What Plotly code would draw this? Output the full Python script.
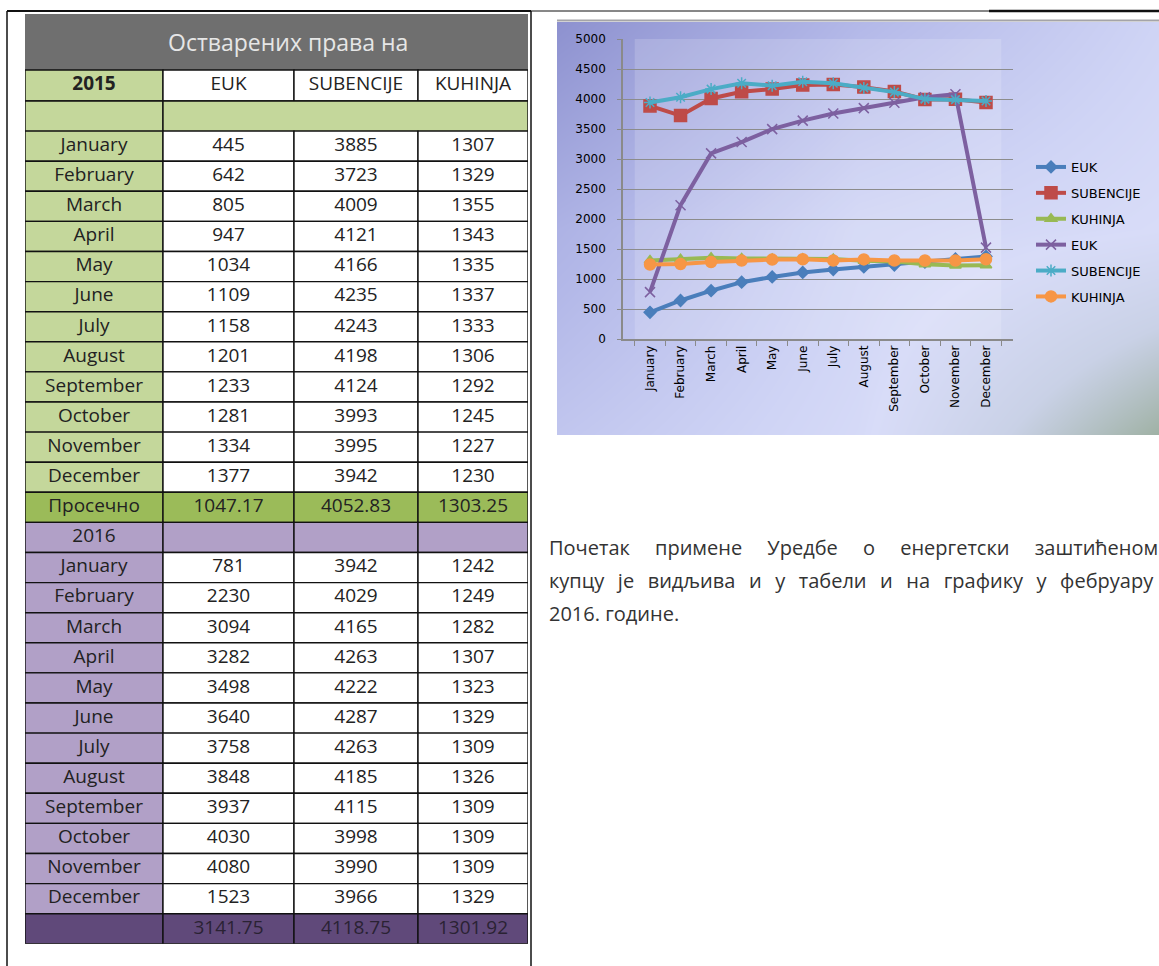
import plotly.graph_objects as go

# ---------------- data ----------------
months = ["January", "February", "March", "April", "May", "June", "July",
          "August", "September", "October", "November", "December"]
columns = ["EUK", "SUBENCIJE", "KUHINJA"]
year_2015 = "2015"
year_2016 = "2016"
euk_2015 = [445, 642, 805, 947, 1034, 1109, 1158, 1201, 1233, 1281, 1334, 1377]
sub_2015 = [3885, 3723, 4009, 4121, 4166, 4235, 4243, 4198, 4124, 3993, 3995, 3942]
kuh_2015 = [1307, 1329, 1355, 1343, 1335, 1337, 1333, 1306, 1292, 1245, 1227, 1230]
avg_2015 = ["1047.17", "4052.83", "1303.25"]
euk_2016 = [781, 2230, 3094, 3282, 3498, 3640, 3758, 3848, 3937, 4030, 4080, 1523]
sub_2016 = [3942, 4029, 4165, 4263, 4222, 4287, 4263, 4185, 4115, 3998, 3990, 3966]
kuh_2016 = [1242, 1249, 1282, 1307, 1323, 1329, 1309, 1326, 1309, 1309, 1309, 1329]
avg_2016 = ["3141.75", "4118.75", "1301.92"]
table_title = "Остварених права на"
avg_label = "Просечно"
paragraph = [["Почетак", "примене", "Уредбе", "о", "енергетски", "заштићеном"],
             ["купцу", "је", "видљива", "и", "у", "табели", "и", "на", "графику", "у", "фебруару"],
             ["2016.", "године."]]
y_ticks = list(range(0, 5001, 500))

# ---------------- layout constants ----------------
W, H = 1159, 966
def px(x):
    return x / W
def py(y):
    return 1 - y / H

FONT = "Open Sans"
TXT = "#222222"
GREEN_L = "#c4d79b"
GREEN_D = "#9bbb59"
PURP_L = "#b1a0c7"
PURP_D = "#60497a"
GRAY_T = "#6f6f6f"

fig = go.Figure()

# ---- chart background gradient (subplot x/y) ----
fig.add_trace(go.Heatmap(
    z=[[0.0, 0.35, 0.55], [0.3, 0.55, 0.62], [0.45, 0.6, 1.0]],
    x=[0, 0.5, 1], y=[1, 0.5, 0],
    zsmooth="best", showscale=False, hoverinfo="skip",
    colorscale=[[0, "#8d91cf"], [0.35, "#b3b8e8"], [0.55, "#cfd4f5"],
                [0.62, "#d8dcf8"], [0.8, "#c9d1e6"], [1, "#9fb1a4"]],
    zmin=0, zmax=1, xaxis="x", yaxis="y"))

# ---- line chart (subplot x2/y2) ----
series = [
    ("EUK", euk_2015, "#4a7ebb", "diamond", 9),
    ("SUBENCIJE", sub_2015, "#be4b48", "square", 12),
    ("KUHINJA", kuh_2015, "#98b954", "triangle-up", 10),
    ("EUK", euk_2016, "#7d60a0", "x-thin-open", 10),
    ("SUBENCIJE", sub_2016, "#4bacc6", "asterisk-open", 10),
    ("KUHINJA", kuh_2016, "#f79646", "circle", 11),
]
for i, (name, vals, col, sym, size) in enumerate(series):
    fig.add_trace(go.Scatter(
        x=months, y=vals, name=name, mode="lines+markers",
        line=dict(color=col, width=4),
        marker=dict(symbol=sym, size=size, color=col,
                    line=dict(color=col, width=1.5)),
        legendgroup=f"g{i}", xaxis="x2", yaxis="y2"))

# ---- table (subplot x3/y3) ----
col_edges = [25, 163, 294, 418, 528]
title_top, head_top, rows_top, row_h = 14, 70, 101, 30.1
n_rows = 28
shapes = []
tx, ty, tt, tc = [], [], [], []

def cell(c0, c1, r_top, r_bot, fill, line=True):
    shapes.append(dict(type="rect", xref="x3", yref="y3",
                       x0=col_edges[c0], x1=col_edges[c1], y0=r_top, y1=r_bot,
                       fillcolor=fill,
                       line=dict(color="#111111", width=1.4) if line else dict(width=0),
                       layer="below"))

def text(c, r_top, r_bot, s, color=TXT):
    tx.append((col_edges[c] + col_edges[c + 1]) / 2)
    ty.append((r_top + r_bot) / 2)
    tt.append(s)
    tc.append(color)

cell(0, 4, title_top, head_top, GRAY_T, line=False)
cell(0, 1, head_top, rows_top, GREEN_L)
text(0, head_top, rows_top, "<b>" + year_2015 + "</b>")
for j, name in enumerate(columns):
    cell(j + 1, j + 2, head_top, rows_top, "white")
    text(j + 1, head_top, rows_top, name)

def row_bounds(i):
    return rows_top + i * row_h, rows_top + (i + 1) * row_h

t, b = row_bounds(0)
cell(0, 1, t, b, GREEN_L)
cell(1, 4, t, b, GREEN_L)

def month_block(start, data, label_fill):
    for k, m in enumerate(months):
        t, b = row_bounds(start + k)
        cell(0, 1, t, b, label_fill)
        text(0, t, b, m)
        for j, arr in enumerate(data):
            cell(j + 1, j + 2, t, b, "white")
            text(j + 1, t, b, str(arr[k]))

month_block(1, [euk_2015, sub_2015, kuh_2015], GREEN_L)
t, b = row_bounds(13)
cell(0, 1, t, b, GREEN_D)
text(0, t, b, avg_label)
for j, v in enumerate(avg_2015):
    cell(j + 1, j + 2, t, b, GREEN_D)
    text(j + 1, t, b, v)
t, b = row_bounds(14)
cell(0, 1, t, b, PURP_L)
text(0, t, b, year_2016)
for j in range(3):
    cell(j + 1, j + 2, t, b, PURP_L)
month_block(15, [euk_2016, sub_2016, kuh_2016], PURP_L)
t, b = row_bounds(27)
cell(0, 1, t, b, PURP_D)
for j, v in enumerate(avg_2016):
    cell(j + 1, j + 2, t, b, PURP_D)
    text(j + 1, t, b, v, color="#2a2233")

fig.add_trace(go.Scatter(
    x=tx, y=ty, text=tt, mode="text", showlegend=False, hoverinfo="skip",
    textfont=dict(family=FONT, size=19, color=tc),
    xaxis="x3", yaxis="y3"))

fig.add_annotation(x=288, y=(title_top + head_top) / 2, xref="x3", yref="y3",
                   text=table_title, showarrow=False,
                   font=dict(family=FONT, size=23, color="#e6e6e6"))

shapes.append(dict(type="rect", xref="x2", yref="y2", x0=-0.5, x1=len(months) - 0.5,
                   y0=0, y1=5000, fillcolor="rgba(255,255,255,0.16)",
                   line=dict(width=0), layer="below"))

frame = dict(color="#111111")
shapes += [
    dict(type="line", xref="paper", yref="paper", x0=px(7), x1=px(7), y0=py(11), y1=0,
         line=dict(width=1.5, **frame)),
    dict(type="line", xref="paper", yref="paper", x0=px(531), x1=px(531), y0=py(11), y1=0,
         line=dict(width=1.5, **frame)),
    dict(type="line", xref="paper", yref="paper", x0=px(7), x1=px(531), y0=py(11), y1=py(11),
         line=dict(width=2, **frame)),
    dict(type="line", xref="paper", yref="paper", x0=px(531), x1=px(989), y0=py(11), y1=py(11),
         line=dict(width=1, **frame)),
    dict(type="line", xref="paper", yref="paper", x0=px(989), x1=1, y0=py(11), y1=py(11),
         line=dict(width=2.5, **frame)),
    dict(type="line", xref="paper", yref="paper", x0=px(557), x1=1, y0=py(20.5), y1=py(20.5),
         line=dict(width=2, color="#a4a4a8")),
]

# paragraph (first two lines justified with widened word gaps)
gaps = [" \u2002\u2002", " \u2005\u2006", " "]
for k, words in enumerate(paragraph):
    line = gaps[k].join(words)
    fig.add_annotation(x=px(547), y=py(547 + 33 * k), xref="paper", yref="paper",
                       xanchor="left", yanchor="middle", showarrow=False, text=line,
                       font=dict(family=FONT, size=20, color="#333333"))

hidden = dict(visible=False, fixedrange=True)
fig.update_layout(
    width=W, height=H, margin=dict(l=0, r=0, t=0, b=0, autoexpand=False),
    paper_bgcolor="white", plot_bgcolor="rgba(0,0,0,0)",
    shapes=shapes,
    xaxis=dict(domain=[px(557), 1], range=[0, 1], anchor="y", **hidden),
    yaxis=dict(domain=[py(435), py(22)], range=[0, 1], anchor="x", **hidden),
    xaxis2=dict(domain=[px(623), px(1013)], anchor="y2", type="category",
                showline=True, linecolor="#8a8a8a", linewidth=1.5,
                ticks="outside", tickson="boundaries", ticklen=5, tickcolor="#8a8a8a",
                tickangle=-90, showgrid=False, fixedrange=True, automargin=False,
                tickfont=dict(family="DejaVu Sans", size=12, color="black")),
    yaxis2=dict(domain=[py(339), py(39)], anchor="x2", range=[0, 5000],
                tickvals=y_ticks, showgrid=False, zeroline=False,
                showline=True, linecolor="#8a8a8a", linewidth=1.5,
                ticks="outside", ticklen=4, tickcolor="#8a8a8a", fixedrange=True,
                ticklabelstandoff=9, automargin=False,
                minor=dict(tickvals=y_ticks[1:-1], showgrid=True, gridcolor="#8c8c8c",
                           gridwidth=1, ticklen=0),
                tickfont=dict(family="DejaVu Sans", size=12, color="black")),
    xaxis3=dict(domain=[px(col_edges[0]), px(col_edges[-1])],
                range=[col_edges[0], col_edges[-1]], anchor="y3", **hidden),
    yaxis3=dict(domain=[py(rows_top + n_rows * row_h), py(title_top)],
                range=[rows_top + n_rows * row_h, title_top], anchor="x3", **hidden),
    showlegend=True,
    legend=dict(x=px(1031), y=py(152), xanchor="left", yanchor="top",
                bgcolor="rgba(0,0,0,0)", tracegroupgap=6,
                font=dict(family="DejaVu Sans", size=13, color="black")),
)

fig.write_html("out.html", config={"displayModeBar": False},
               post_script="document.body.style.margin='0px';")
